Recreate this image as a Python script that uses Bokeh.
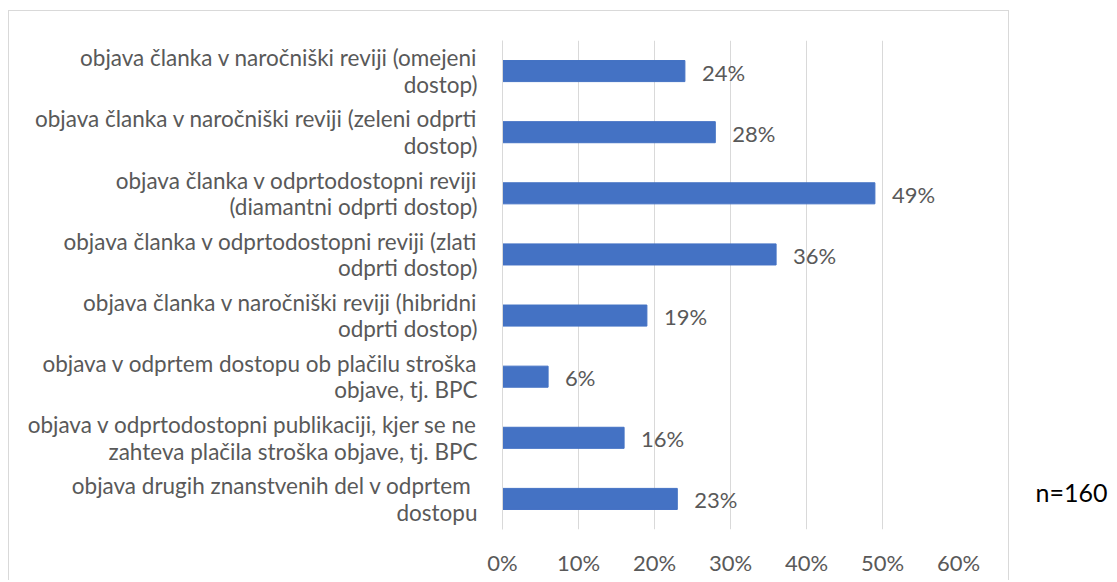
from bokeh.plotting import figure
from bokeh.models import ColumnDataSource, FactorRange, Range1d, NumeralTickFormatter, FixedTicker
from bokeh.layouts import row
from bokeh.core.properties import value
from bokeh.embed import file_html
from bokeh.resources import INLINE

categories = [
    "objava članka v naročniški reviji (omejeni\ndostop)",
    "objava članka v naročniški reviji (zeleni odprti\ndostop)",
    "objava članka v odprtodostopni reviji\n(diamantni odprti dostop)",
    "objava članka v odprtodostopni reviji (zlati\nodprti dostop)",
    "objava članka v naročniški reviji (hibridni\nodprti dostop)",
    "objava v odprtem dostopu ob plačilu stroška\nobjave, tj. BPC",
    "objava v odprtodostopni publikaciji, kjer se ne\nzahteva plačila stroška objave, tj. BPC",
    "objava drugih znanstvenih del  v odprtem\ndostopu",
]
percent_values = [24, 28, 49, 36, 19, 6, 16, 23]
x_ticks = [0.0, 0.1, 0.2, 0.3, 0.4, 0.5, 0.6]
note_text = "n=160"

FONT = "Lato"
TEXT_COLOR = "#595959"
GRID_COLOR = "#d9d9d9"
BAR_COLOR = "#4472C4"

src = ColumnDataSource(dict(
    cat=categories,
    val=[v / 100 for v in percent_values],
    lab=[f"{v}%" for v in percent_values],
))

p = figure(
    width=1001, height=570,
    y_range=FactorRange(factors=list(reversed(categories)), range_padding=0),
    x_range=Range1d(0, 0.6),
    output_backend="svg", toolbar_location=None,
    min_border_left=493, min_border_right=52, min_border_top=29, min_border_bottom=52,
    styles={"border-top": "1px solid #d9d9d9", "border-left": "1px solid #d9d9d9",
            "border-right": "1px solid #d9d9d9", "margin-top": "10px", "margin-left": "8px"},
)
p.outline_line_color = None
p.background_fill_color = "white"

p.hbar(y="cat", right="val", left=0, height=0.345, color=BAR_COLOR, source=src)
p.text(x="val", y="cat", text="lab", source=src, x_offset=17, y_offset=1,
       text_baseline="middle", text_align="left",
       text_font=value(FONT), text_font_size="22px", text_color=TEXT_COLOR)

p.xaxis.ticker = FixedTicker(ticks=x_ticks)
p.xaxis.formatter = NumeralTickFormatter(format="0%")
p.xaxis.axis_line_color = None
p.xaxis.major_tick_line_color = None
p.xaxis.minor_tick_line_color = None
p.xaxis.major_tick_out = 0
p.xaxis.major_tick_in = 0
p.xaxis.major_label_standoff = 19
p.xaxis.major_label_text_font = FONT
p.xaxis.major_label_text_font_size = "22px"
p.xaxis.major_label_text_color = TEXT_COLOR

p.yaxis.axis_line_color = GRID_COLOR
p.yaxis.major_tick_line_color = None
p.yaxis.minor_tick_line_color = None
p.yaxis.major_label_standoff = 19
p.yaxis.major_label_text_font = FONT
p.yaxis.major_label_text_font_size = "22.5px"
p.yaxis.major_label_text_color = TEXT_COLOR
p.yaxis.major_label_text_line_height = 0.98
p.yaxis.major_label_text_align = "center"

p.xgrid.grid_line_color = GRID_COLOR
p.ygrid.grid_line_color = None

p2 = figure(width=100, height=580, x_range=Range1d(0, 100), y_range=Range1d(580, 0),
            title=None, x_axis_location=None, y_axis_location=None,
            output_backend="svg", toolbar_location=None,
            min_border=0, min_border_left=0, min_border_right=0, min_border_top=0, min_border_bottom=0)
p2.outline_line_color = None
p2.grid.visible = False
p2.text(x=[98], y=[538], text=[note_text], text_baseline="middle", text_align="right",
        text_font=value(FONT), text_font_size="25px", text_color="#000000")

layout = row(p, p2)
open("out.html", "w").write(file_html(layout, INLINE))
